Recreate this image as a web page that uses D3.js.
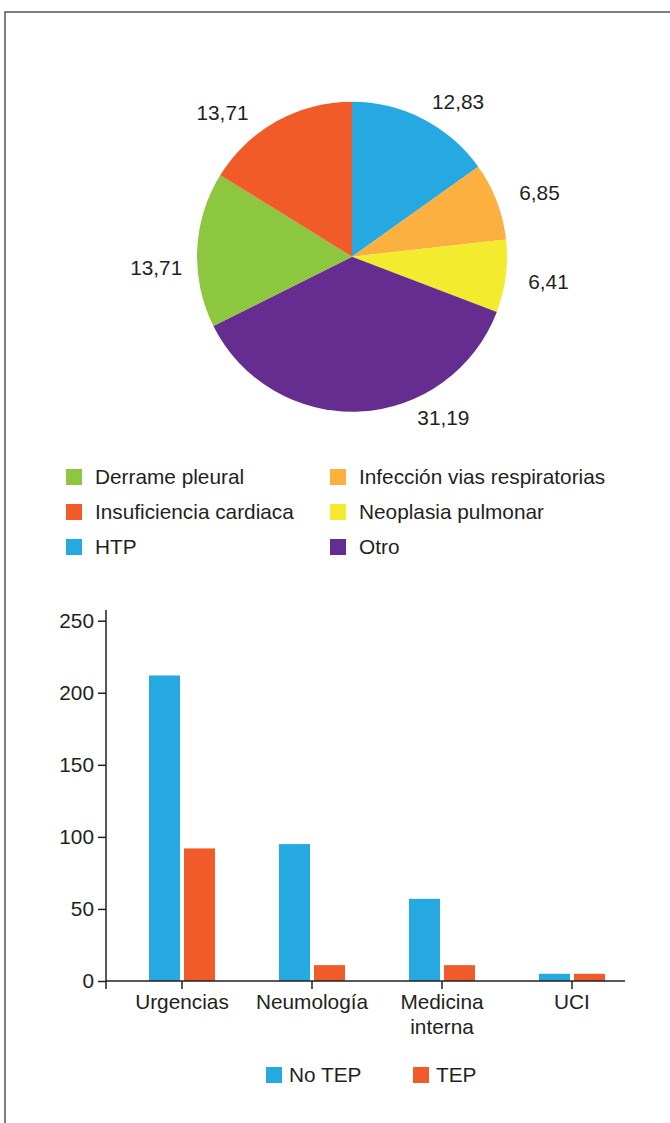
<!DOCTYPE html>
<html>
<head>
<meta charset="utf-8">
<script src="https://cdn.jsdelivr.net/npm/d3@7"></script>
<style>
html,body{margin:0;padding:0;background:#fff;}
svg{display:block;}
text{font-family:"Liberation Sans",Arial,Helvetica,sans-serif;fill:#231f20;}
</style>
</head>
<body>
<svg id="chart" width="670" height="1123"></svg>
<script>
// ---- Pie data ----
const pieCategories = ["HTP", "Infección vias respiratorias", "Neoplasia pulmonar", "Otro", "Derrame pleural", "Insuficiencia cardiaca"];
const pieValues = [12.83, 6.85, 6.41, 31.19, 13.71, 13.71];
const pieLabels = ["12,83", "6,85", "6,41", "31,19", "13,71", "13,71"];
const pieColors = ["#25a9e0", "#fbb040", "#f3eb2e", "#662d91", "#8dc63f", "#f15a29"];
const legendOrder = ["Derrame pleural", "Infección vias respiratorias", "Insuficiencia cardiaca", "Neoplasia pulmonar", "HTP", "Otro"];

// ---- Bar data ----
const barCategories = [["Urgencias"], ["Neumología"], ["Medicina", "interna"], ["UCI"]];
const seriesNames = ["No TEP", "TEP"];
const noTep = [212, 95, 57, 5];
const tep = [92, 11, 11, 5];
const seriesColors = ["#25a9e0", "#f15a29"];
const yTicks = [0, 50, 100, 150, 200, 250];

const svg = d3.select("#chart");
const FS = 20.8;

// frame
svg.append("path")
  .attr("d", d3.line()([[5, 1123], [5, 12], [670, 12]]))
  .attr("fill", "none").attr("stroke", "#555").attr("stroke-width", 1.5);

// ---- Pie ----
const cx = 352, cy = 256.7, R = 155;
const gPie = svg.append("g").attr("transform", `translate(${cx},${cy})`);
const pie = d3.pie().sort(null).value(d => d)(pieValues);
const arc = d3.arc().innerRadius(0).outerRadius(R);
gPie.selectAll("path.slice").data(pie).join("path")
  .attr("class", "slice")
  .attr("d", arc)
  .attr("fill", (d, i) => pieColors[i]);

// labels: radial anchor + layout nudges
const labelArc = d3.arc().innerRadius(190).outerRadius(190);
const labelNudge = [[19, 14], [10, 4], [8, 1], [82, -29], [-6, 19], [-37, 22]];
gPie.selectAll("text.lbl").data(pie).join("text")
  .attr("class", "lbl")
  .attr("x", (d, i) => labelArc.centroid(d)[0] + labelNudge[i][0])
  .attr("y", (d, i) => labelArc.centroid(d)[1] + labelNudge[i][1])
  .attr("dy", "0.36em")
  .attr("text-anchor", "middle")
  .attr("font-size", FS)
  .text((d, i) => pieLabels[i]);

// pie legend
const colorOf = d3.scaleOrdinal().domain(pieCategories).range(pieColors);
const gLeg = svg.append("g");
legendOrder.forEach((name, i) => {
  const col = i % 2, row = Math.floor(i / 2);
  const x = col === 0 ? 66 : 330;
  const y = 477 + row * 35;
  gLeg.append("rect").attr("x", x).attr("y", y - 8).attr("width", 16).attr("height", 16).attr("fill", colorOf(name));
  gLeg.append("text").attr("x", x + 29).attr("y", y).attr("dy", "0.36em").attr("font-size", FS).text(name);
});

// ---- Bar chart ----
const y = d3.scaleLinear().domain([0, 250]).range([981, 620.7]);
const x0 = d3.scaleBand().domain(barCategories.map(d => d.join(" "))).range([117, 637]);
const x1 = d3.scaleBand().domain(seriesNames).range([-33, 33]).paddingInner(2 - 66 / 35);
const axisX = 106;

const gBar = svg.append("g");
const data = barCategories.map((c, i) => ({cat: c.join(" "), vals: [noTep[i], tep[i]]}));
gBar.selectAll("g.grp").data(data).join("g")
  .attr("class", "grp")
  .attr("transform", d => `translate(${x0(d.cat) + x0.bandwidth() / 2},0)`)
  .selectAll("rect").data(d => d.vals.map((v, k) => ({k, v}))).join("rect")
  .attr("x", d => x1(seriesNames[d.k]))
  .attr("width", x1.bandwidth())
  .attr("y", d => y(d.v))
  .attr("height", d => y(0) - y(d.v))
  .attr("fill", d => seriesColors[d.k]);

// y axis
const yAxis = d3.axisLeft(y).tickValues(yTicks).tickSize(8).tickPadding(4).tickFormat(d3.format("d"));
const gy = svg.append("g").attr("transform", `translate(${axisX},0)`).call(yAxis);
gy.select(".domain").remove();
gy.selectAll(".tick line").attr("stroke", "#231f20").attr("stroke-width", 1.5);
gy.selectAll(".tick text").attr("font-size", FS).attr("font-family", null).attr("fill", "#231f20");
svg.append("line").attr("x1", axisX).attr("x2", axisX).attr("y1", 610).attr("y2", 989)
  .attr("stroke", "#231f20").attr("stroke-width", 1.5);

// x axis
svg.append("line").attr("x1", axisX).attr("x2", 625).attr("y1", y(0)).attr("y2", y(0))
  .attr("stroke", "#231f20").attr("stroke-width", 1.5);
const gx = svg.append("g");
data.forEach((d, i) => {
  const cxp = x0(d.cat) + x0.bandwidth() / 2;
  gx.append("line").attr("x1", cxp).attr("x2", cxp).attr("y1", y(0)).attr("y2", y(0) + 8)
    .attr("stroke", "#231f20").attr("stroke-width", 1.5);
  const t = gx.append("text").attr("text-anchor", "middle").attr("font-size", FS)
    .attr("x", cxp).attr("y", 1002).attr("dy", "0.36em");
  barCategories[i].forEach((line, j) => {
    t.append("tspan").attr("x", cxp).attr("dy", j === 0 ? "0.36em" : "1.17em").text(line);
  });
});

// bar legend
const legX = [266, 413];
seriesNames.forEach((s, i) => {
  svg.append("rect").attr("x", legX[i]).attr("y", 1067).attr("width", 16).attr("height", 16).attr("fill", seriesColors[i]);
  svg.append("text").attr("x", legX[i] + 23).attr("y", 1075).attr("dy", "0.36em").attr("font-size", FS).text(s);
});
</script>
</body>
</html>
